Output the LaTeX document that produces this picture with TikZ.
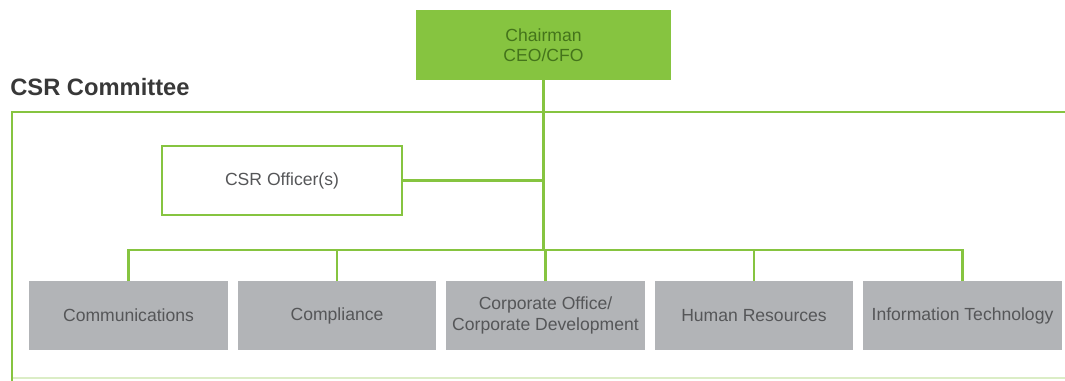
\documentclass[tikz,border=0pt]{standalone}
\usepackage{fontspec}
\setmainfont{Liberation Sans}
\definecolor{csrgreen}{HTML}{86C440}
\definecolor{chairtext}{HTML}{44741B}
\definecolor{unitgray}{HTML}{B2B4B7}
\definecolor{unittext}{HTML}{555658}
\definecolor{titletext}{HTML}{383838}

\begin{document}
\begin{tikzpicture}[x=0.02cm,y=-0.02cm,
  link/.style={draw=csrgreen,line width=1.5pt},
  chairbox/.style={fill=csrgreen,text=chairtext,align=center,
    minimum width=5.1cm,minimum height=1.4cm,inner sep=0pt,outer sep=0pt,
    font=\fontsize{10}{11.5}\selectfont},
  officerbox/.style={draw=csrgreen,line width=1.6pt,fill=white,text=unittext,
    minimum width=4.8cm,minimum height=1.38cm,inner sep=0pt,outer sep=0pt,
    font=\fontsize{10}{12}\selectfont},
  unitbox/.style={fill=unitgray,text=unittext,align=center,
    minimum width=3.98cm,minimum height=1.38cm,inner sep=0pt,outer sep=0pt,
    font=\fontsize{10}{11.5}\selectfont}]

\useasboundingbox (0,0) rectangle (1065,381);

\begin{scope} % CSR committee frame
  \draw[csrgreen!30,line width=1pt] (12,378) -- (1065,378);
  \draw[link,line width=1.7pt] (1065,112) -- (12,112) -- (12,381);
  \node[anchor=south west,inner sep=0pt,text=titletext,
    font=\fontsize{13.5}{15}\selectfont\bfseries] (title) at (10,96)
    {CSR Committee};
\end{scope}

\begin{scope} % top of the chart
  \node[chairbox] (chair) at (543.5,45) {Chairman\\CEO/CFO};
  \node[officerbox] (officer) at (282,180.5) {CSR Officer(s)};
  \coordinate (bus) at (543.5,250);
\end{scope}

\begin{scope} % departments
  \node[unitbox] (comm) at (128.5,315.5) {Communications};
  \node[unitbox] (compl) at (337,315.5) {Compliance};
  \node[unitbox] (corp) at (545.5,315.5) {Corporate Office/\\Corporate Development};
  \node[unitbox] (hr) at (754,315.5) {Human Resources};
  \node[unitbox] (it) at (962.5,315.5) {Information Technology};
\end{scope}

\begin{scope}[link] % connectors
  \draw (chair.south) -- (bus);
  \draw (officer.east) -- (officer.east -| chair.south);
  \foreach \unit in {comm,compl,corp,hr,it}
    \draw (\unit.north) |- (bus);
\end{scope}

\end{tikzpicture}
\end{document}
